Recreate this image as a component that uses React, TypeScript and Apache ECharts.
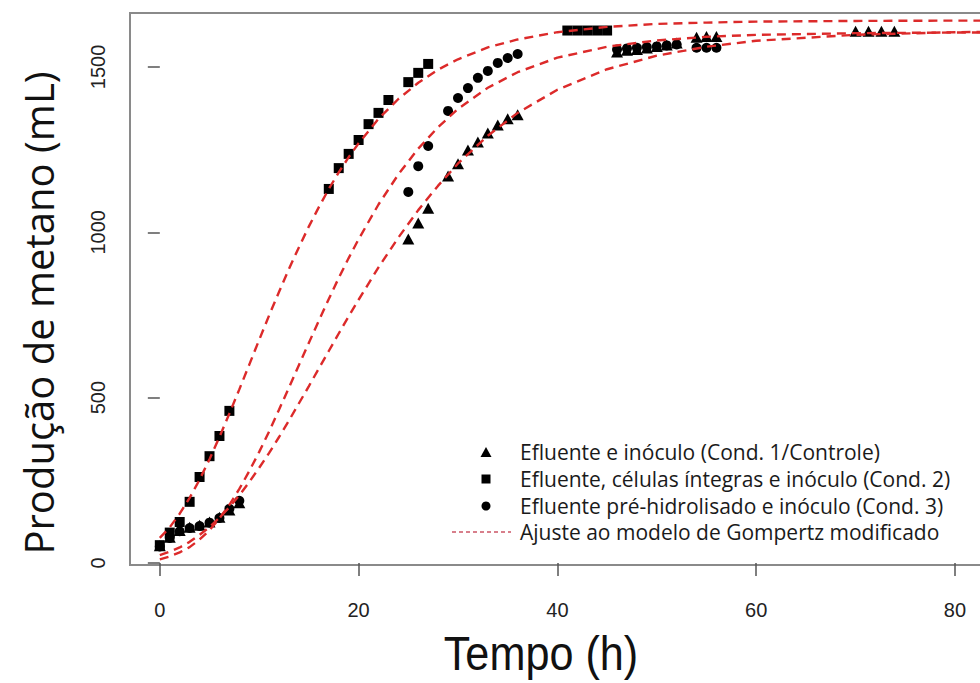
import React, { useEffect, useRef } from "react";
import * as echarts from "echarts";

// ---- Data ----
// Cond. 1 / Controle (triangles)
const triTime = [0, 1, 2, 3, 4, 5, 6, 7, 8, 25, 26, 27, 29, 30, 31, 32, 33, 34, 35, 36, 46, 47, 48, 49, 50, 51, 52, 54, 55, 56, 70, 71.3, 72.6, 73.9];
const triVal = [52, 78, 98, 108, 114, 124, 138, 160, 182, 980, 1028, 1073, 1170, 1207, 1249, 1273, 1300, 1324, 1343, 1355, 1545, 1550, 1553, 1557, 1562, 1566, 1572, 1590, 1592, 1592, 1608, 1608, 1608, 1608];

// Cond. 2 (squares)
const sqTime = [0, 1, 2, 3, 4, 5, 6, 7, 17, 18, 19, 20, 21, 22, 23, 25, 26, 27, 41, 42, 43, 44, 45];
const sqVal = [54, 92, 124, 185, 260, 323, 384, 460, 1131, 1194, 1237, 1279, 1327, 1361, 1400, 1454, 1482, 1509, 1610, 1610, 1610, 1610, 1610];

// Cond. 3 (circles)
const circTime = [0, 1, 2, 3, 4, 5, 6, 7, 8, 25, 26, 27, 29, 30, 31, 32, 33, 34, 35, 36, 46, 47, 48, 49, 50, 51, 52, 54, 55, 56];
const circVal = [50, 76, 96, 106, 112, 122, 136, 164, 188, 1122, 1200, 1261, 1367, 1406, 1436, 1467, 1488, 1512, 1527, 1539, 1553, 1556, 1558, 1560, 1562, 1565, 1568, 1558, 1558, 1558];

// Fitted (modified Gompertz) curves, read at these times
const fitTime = [0, 1, 2, 3, 4, 5, 6, 7, 8, 9, 10, 11, 12, 13, 14, 15, 16, 17, 18, 19, 20, 22, 24, 26, 28, 30, 33, 36, 40, 45, 50, 55, 60, 70, 80, 90];
const fitSq = [76, 108, 149, 197, 252, 314, 381, 452, 525, 600, 675, 749, 820, 890, 955, 1018, 1076, 1131, 1181, 1227, 1269, 1343, 1403, 1452, 1492, 1523, 1559, 1583, 1605, 1621, 1630, 1634, 1637, 1639, 1640, 1640];
const fitCirc = [11, 20, 32, 48, 71, 99, 135, 176, 224, 278, 336, 398, 464, 531, 599, 666, 733, 798, 862, 922, 979, 1084, 1175, 1253, 1318, 1373, 1437, 1484, 1528, 1561, 1580, 1591, 1597, 1602, 1604, 1605];
const fitTri = [24, 34, 47, 64, 85, 109, 137, 169, 205, 245, 288, 333, 381, 431, 483, 535, 588, 641, 694, 746, 796, 894, 984, 1067, 1141, 1208, 1292, 1361, 1431, 1493, 1534, 1561, 1579, 1597, 1605, 1608];

const xTicks = [0, 20, 40, 60, 80];
const yTicks = [0, 500, 1000, 1500];

const legendLabels = [
  "Efluente e inóculo (Cond. 1/Controle)",
  "Efluente, células íntegras e inóculo (Cond. 2)",
  "Efluente pré-hidrolisado e inóculo (Cond. 3)",
  "Ajuste ao modelo de Gompertz modificado",
];

const xTitle = "Tempo (h)";
const yTitle = "Produção de metano (mL)";

const NARROW = "'Liberation Sans Narrow', 'Arial Narrow', 'Liberation Sans', Arial, sans-serif";
const SANS = "'Open Sans', 'Noto Sans', sans-serif";
const RED = "#dc2a2a";

const pairs = (xs: number[], ys: number[]) => xs.map((x, i) => [x, ys[i]]);

export default function App() {
  const ref = useRef<HTMLDivElement>(null);
  useEffect(() => {
    if (!ref.current) return;
    const chart = echarts.init(ref.current, null, { renderer: "svg" });
    const fitLine = (data: number[][]) => ({
      type: "line",
      data,
      smooth: false,
      symbol: "none",
      z: 5,
      lineStyle: { color: RED, width: 2.4, type: [9, 6] },
    });
    const dot = { color: "#000", opacity: 1 };
    const legendY = [452, 479, 506, 532];
    chart.setOption({
      animation: false,
      backgroundColor: "#ffffff",
      grid: {
        left: 130,
        top: 13,
        right: 5.5,
        bottom: 118,
        show: true,
        borderColor: "#8a8a8a",
        borderWidth: 2,
        backgroundColor: "transparent",
      },
      xAxis: {
        type: "value",
        min: -3,
        max: 88,
        axisLine: { show: false },
        splitLine: { show: false },
        axisTick: { show: true, length: 13, customValues: xTicks, lineStyle: { color: "#555", width: 1.5 } },
        axisLabel: {
          customValues: xTicks,
          margin: 35,
          fontSize: 20,
          color: "#222",
          fontFamily: NARROW,
          formatter: (v: number) => String(v),
        },
      },
      yAxis: {
        type: "value",
        min: -6,
        max: 1663,
        axisLine: { show: false },
        splitLine: { show: false },
        axisTick: { show: true, length: 12, customValues: yTicks, lineStyle: { color: "#555", width: 1.5 } },
        axisLabel: {
          customValues: yTicks,
          rotate: 90,
          margin: 22,
          fontSize: 20,
          color: "#222",
          fontFamily: NARROW,
          formatter: (v: number) => String(v),
        },
      },
      series: [
        { type: "scatter", data: pairs(triTime, triVal), symbol: "triangle", symbolSize: [12, 11], itemStyle: dot, z: 3 },
        { type: "scatter", data: pairs(sqTime, sqVal), symbol: "rect", symbolSize: 10, itemStyle: dot, z: 3 },
        { type: "scatter", data: pairs(circTime, circVal), symbol: "circle", symbolSize: 10, itemStyle: dot, z: 3 },
        fitLine(pairs(fitTime, fitSq)),
        fitLine(pairs(fitTime, fitCirc)),
        fitLine(pairs(fitTime, fitTri)),
      ],
      graphic: [
        {
          type: "text",
          x: 541,
          y: 654,
          scaleX: 0.9,
          style: { text: xTitle, fontSize: 48, fontFamily: NARROW, fill: "#111", align: "center", verticalAlign: "middle", lineHeight: 52 },
        },
        {
          type: "text",
          x: 38,
          y: 313,
          rotation: Math.PI / 2,
          style: { text: yTitle, fontSize: 40, fontFamily: SANS, fill: "#111", align: "center", verticalAlign: "middle" },
        },
        // legend
        { type: "polygon", shape: { points: [[480.5, 457], [491.5, 457], [486, 447]] }, style: { fill: "#000" } },
        { type: "rect", shape: { x: 481.5, y: legendY[1] - 4.5, width: 9, height: 9 }, style: { fill: "#000" } },
        { type: "circle", shape: { cx: 486, cy: legendY[2], r: 4.5 }, style: { fill: "#000" } },
        {
          type: "line",
          shape: { x1: 452, y1: legendY[3], x2: 511, y2: legendY[3] },
          style: { stroke: "#cc5566", lineWidth: 1.3, lineDash: [4, 3] },
        },
        ...legendLabels.map((t, i) => ({
          type: "text",
          x: 520,
          y: legendY[i],
          style: { text: t, fontSize: 21, lineHeight: 24, fontFamily: SANS, fill: "#1a1a1a", align: "left", verticalAlign: "middle" },
        })),
      ],
    });
    return () => chart.dispose();
  }, []);
  return (
    <div style={{ position: "absolute", left: 0, top: 0, width: 980, height: 683, overflow: "hidden", background: "#fff" }}>
      <div ref={ref} style={{ width: 1040, height: 683 }} />
    </div>
  );
}
